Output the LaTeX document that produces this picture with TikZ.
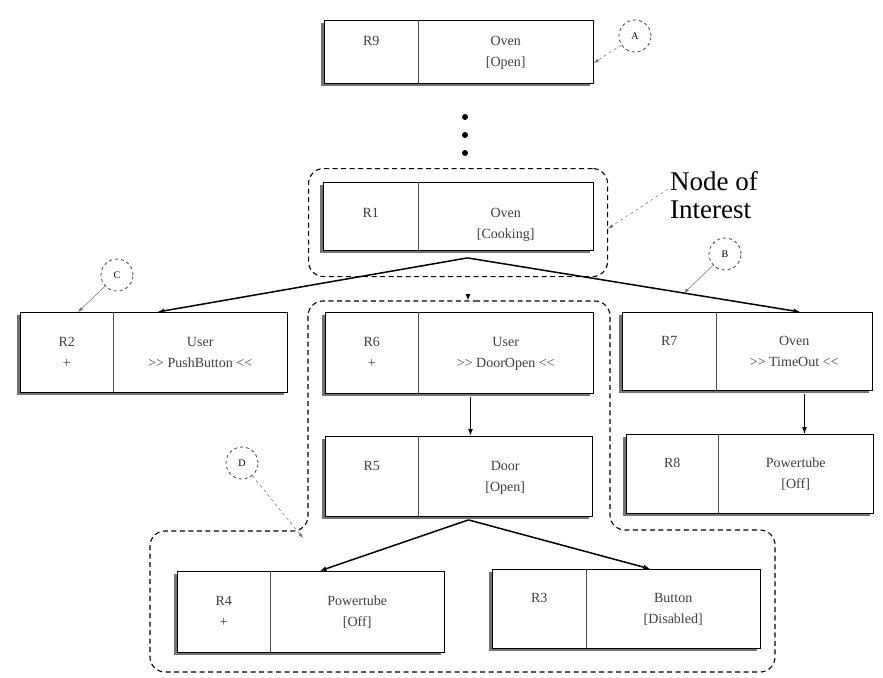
\documentclass[tikz,border=0pt]{standalone}
\usepackage{fontspec}
\setmainfont{Liberation Serif}
\usetikzlibrary{arrows.meta,shadows}
\newcommand\gtgt{>\kern0pt>}
\newcommand\ltlt{<\kern0pt<}
\tikzset{
  rbox/.style={draw, line width=0.9pt, fill=white, anchor=north west, inner sep=0pt,
    drop shadow={shadow xshift=-3pt, shadow yshift=-3pt, fill=black!55, opacity=1}},
  cell/.style={anchor=north west, inner sep=0pt, align=center, text=black!75,
    font=\fontsize{14}{21}\selectfont, execute at begin node={\strut}, execute at end node={\strut}},
  divider/.style={draw=black!70, line width=0.6pt},
  region/.style={draw, line width=1.1pt, dash pattern=on 5pt off 3.5pt, rounded corners=15pt},
  regionnode/.style={region, anchor=north west, inner sep=0pt},
  main/.style={draw, line width=1.5pt, -{Latex[length=7pt,width=5pt]}},
  ptr/.style={draw=black!55, line width=0.5pt, -{Latex[length=5pt,width=3.5pt]}},
  circ/.style={circle, draw=black!75, dashed, line width=0.8pt, minimum size=32pt, inner sep=0pt,
    font=\fontsize{10}{12}\selectfont},
  dot/.style={circle, fill=black, inner sep=0pt, minimum size=6pt},
  noi/.style={anchor=west, inner sep=0pt, align=left, font=\fontsize{27}{28}\selectfont}
}
% \rbox[extra text drop]{name}{x1}{y1}{xdiv}{x2}{y2}{label}{content}
\newcommand\rbox[9][0]{%
  \node[rbox, minimum width={#6-#3}, minimum height={#7-#4}] (#2) at (#3,#4) {};
  \node[cell, minimum width={#5-#3}, minimum height={#7-#4}, yshift={-3-#1}] (#2l) at (#3,#4) {#8};
  \node[cell, minimum width={#6-#5}, minimum height={#7-#4}, yshift={-3-#1}] (#2c) at (#5,#4) {#9};
  \draw[divider] (#5,#4) -- (#5,#7);
}
\begin{document}
\begin{tikzpicture}[x=1pt,y=-1pt]
\useasboundingbox (0,0) rectangle (883,677);
% dashed regions
\node[regionnode, minimum width=299pt, minimum height=108pt] (NI) at (308,168) {};
\draw[region] (460,301) -- (610,301) -- (610,530) -- (775,530) -- (775,672)
  -- (150,672) -- (150,531) -- (308,531) -- (308,301) -- cycle;
% boxes
\rbox{R9}{324}{20}{418}{593}{83}{R9\\\mbox{}}{Oven\\{[Open]}}
\rbox[7]{R1}{323}{182}{418}{593}{250}{R1\\\mbox{}}{Oven\\{[Cooking]}}
\rbox{R2}{20}{312}{113}{287}{392}{R2\\+}{User\\\gtgt{} PushButton \ltlt}
\rbox{R6}{325}{312}{418}{593}{393}{R6\\+}{User\\\gtgt{} DoorOpen \ltlt}
\rbox{R7}{622}{312}{716}{872}{390}{R7\\\mbox{}}{Oven\\\gtgt{} TimeOut \ltlt}
\rbox{R8}{626}{434}{718}{873}{513}{R8\\\mbox{}}{Powertube\\{[Off]}}
\rbox{R5}{325}{436}{418}{592}{516}{R5\\\mbox{}}{Door\\{[Open]}}
\rbox{R4}{177}{571}{270}{444}{652}{R4\\+}{Powertube\\{[Off]}}
\rbox{R3}{492}{569}{586}{760}{648}{R3\\\mbox{}}{Button\\{[Disabled]}}
% dots
\node[dot] (dot1) at (465,117) {};
\node[dot] (dot2) at (465,135) {};
\node[dot] (dot3) at (465,153) {};
% connectors
\draw[main] ([xshift=9pt,yshift=-7pt]R1.south) -- ([xshift=3.5pt]R2.north);
\draw[main] ([xshift=9pt,yshift=-7pt]R1.south) -- coordinate[pos=0.65] (Bt) ([xshift=53pt]R7.north);
\coordinate (Dtop) at (468,301);
\draw[main] ([yshift=6pt]Dtop) -- (Dtop);
\draw[main] ([xshift=11pt,yshift=-3pt]R6.south) -- ([xshift=11.5pt]R5.north);
\draw[main, line width=1pt] ([xshift=57pt,yshift=-3pt]R7.south) -- ([xshift=54.5pt]R8.north);
\draw[main] ([xshift=9.5pt,yshift=-3pt]R5.south) -- ([xshift=8.5pt]R4.north);
\draw[main] ([xshift=9.5pt,yshift=-3pt]R5.south) -- ([xshift=24pt]R3.north);
% callouts
\node[circ] (A) at (635,36) {A};
\node[circ] (B) at (725,254) {B};
\node[circ] (C) at (117,275) {C};
\node[circ] (D) at (242,463) {D};
\draw[ptr, dashed] (A) -- ([yshift=-11pt]R9.east);
\draw[ptr] (B) -- (Bt);
\draw[ptr] (C) -- ([xshift=58pt]R2.north west);
\coordinate (Dp) at (303,538);
\draw[ptr, dashed] (D) -- (Dp);
\node[noi] (NoI) at (670,195) {Node of\\Interest};
\draw[ptr, dashed] ([xshift=-2pt,yshift=6pt]NoI.west) -- ([yshift=-6pt]NI.east);
\end{tikzpicture}
\end{document}
